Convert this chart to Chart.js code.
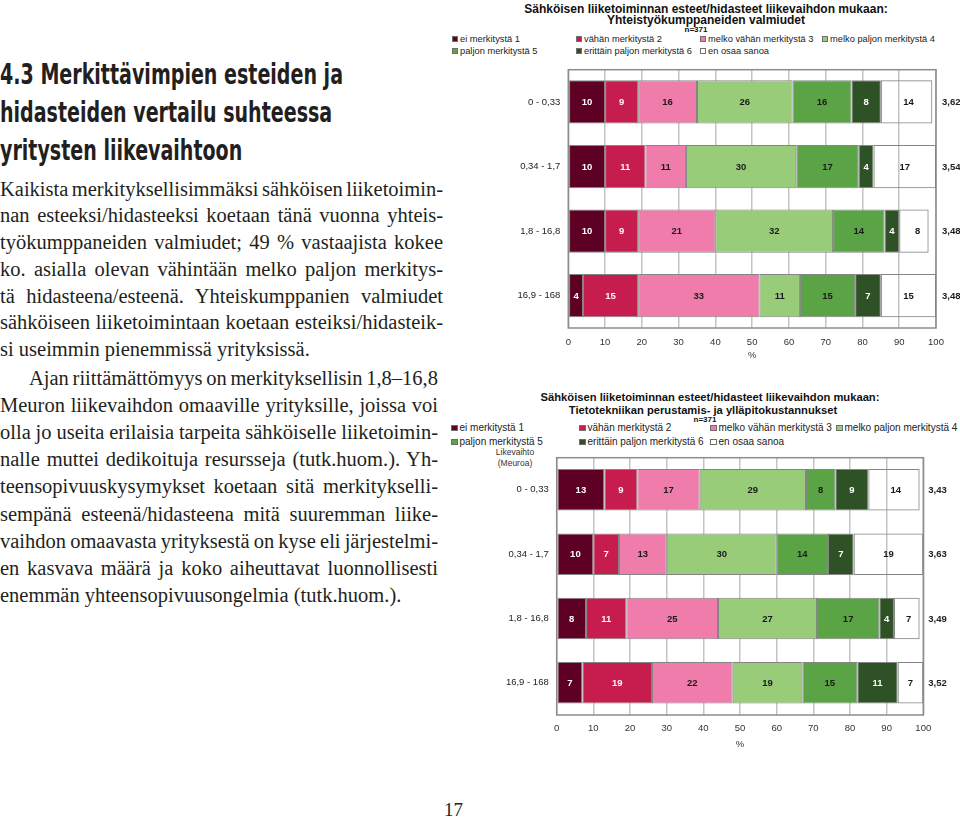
<!DOCTYPE html>
<html><head><meta charset="utf-8">
<script src="https://cdn.jsdelivr.net/npm/chart.js@4.4.1/dist/chart.umd.min.js"></script>
<style>
html,body{margin:0;padding:0;background:#fff;}
body{width:960px;height:819px;overflow:hidden;position:relative;}
.abs{position:absolute;white-space:nowrap;}
.h{font-family:"Liberation Sans Narrow","DejaVu Sans Condensed","Liberation Sans",sans-serif;font-weight:bold;font-size:28px;line-height:37.75px;color:#231f20;}
.h div{display:block;white-space:nowrap;transform-origin:0 50%;}
.h span{display:inline-block;}
.b{font-family:"Liberation Serif","DejaVu Serif",serif;font-size:20.5px;color:#231f20;}
.b div{white-space:nowrap;}
.b span{display:inline-block;}
.ct{font-family:"Liberation Sans",Arial,sans-serif;font-weight:bold;color:#111;line-height:1;transform:translateX(-50%);}
.lg{font-family:"Liberation Sans",Arial,sans-serif;color:#222;line-height:1;}
.mk{display:inline-block;border:1px solid #6f6f6f;margin-right:2px;box-sizing:border-box;}
.sm{font-family:"Liberation Sans",Arial,sans-serif;color:#333;line-height:1;text-align:center;transform:translateX(-50%);}
canvas{position:absolute;}
</style>
</head>
<body>
<div class="abs h" id="heading" style="left:0;top:56.4px;">
  <div><span>4.3 Merkittävimpien esteiden ja</span></div>
  <div><span>hidasteiden vertailu suhteessa</span></div>
  <div><span>yritysten liikevaihtoon</span></div>
</div>
<div class="abs b" id="body1" style="left:0;top:175.6px;line-height:26.75px;"></div>
<div class="abs b" id="body2" style="left:0;top:364.6px;line-height:27.2px;"></div>
<div class="abs" style="left:444px;top:800px;font-family:'Liberation Serif',serif;font-size:19px;line-height:1;color:#231f20;">17</div>

<div class="abs ct" style="left:706px;top:2.6px;font-size:12px;">Sähköisen liiketoiminnan esteet/hidasteet liikevaihdon mukaan:</div>
<div class="abs ct" style="left:706px;top:14.4px;font-size:12px;">Yhteistyökumppaneiden valmiudet</div>
<div class="abs ct" style="left:696px;top:26.4px;font-size:8px;">n=371</div>
<div id="leg1"></div>

<div class="abs ct" style="left:710px;top:391.8px;font-size:11.2px;">Sähköisen liiketoiminnan esteet/hidasteet liikevaihdon mukaan:</div>
<div class="abs ct" style="left:703px;top:404.6px;font-size:11.2px;">Tietotekniikan perustamis- ja ylläpitokustannukset</div>
<div class="abs ct" style="left:705px;top:416.2px;font-size:8px;">n=371</div>
<div id="leg2"></div>
<div class="abs sm" style="left:515px;top:447px;font-size:8.5px;line-height:11px;">Likevaihto<br>(Meuroa)</div>

<canvas id="c1" width="510" height="310" style="left:450px;top:56px;width:510px;height:310px;"></canvas>
<canvas id="c2" width="510" height="310" style="left:450px;top:444px;width:510px;height:310px;"></canvas>

<script>
// ---------- data ----------
const categories = ['0 - 0,33', '0,34 - 1,7', '1,8 - 16,8', '16,9 - 168'];
const seriesNames = ['ei merkitystä 1', 'vähän merkitystä 2', 'melko vähän merkitystä 3', 'melko paljon merkitystä 4', 'paljon merkitystä 5', 'erittäin paljon merkitystä 6', 'en osaa sanoa'];
const xTickValues = [0, 10, 20, 30, 40, 50, 60, 70, 80, 90, 100];

// Chart 1: Yhteistyökumppaneiden valmiudet
const c1_ei1 = [10, 10, 10, 4];
const c1_vahan2 = [9, 11, 9, 15];
const c1_melkoVahan3 = [16, 11, 21, 33];
const c1_melkoPaljon4 = [26, 30, 32, 11];
const c1_paljon5 = [16, 17, 14, 15];
const c1_erittain6 = [8, 4, 4, 7];
const c1_eos = [14, 17, 8, 15];
const c1_means = ['3,62', '3,54', '3,48', '3,48'];

// Chart 2: Tietotekniikan perustamis- ja ylläpitokustannukset
const c2_ei1 = [13, 10, 8, 7];
const c2_vahan2 = [9, 7, 11, 19];
const c2_melkoVahan3 = [17, 13, 25, 22];
const c2_melkoPaljon4 = [29, 30, 27, 19];
const c2_paljon5 = [8, 14, 17, 15];
const c2_erittain6 = [9, 7, 4, 11];
const c2_eos = [14, 19, 7, 7];
const c2_means = ['3,43', '3,63', '3,49', '3,52'];

// ---------- styles ----------
const seriesColors = ['#5e0024', '#c71d4e', '#f07cab', '#99cc78', '#5ba446', '#2f5126', 'rgba(255,255,255,0)'];
const legendColors = ['#5e0024', '#c71d4e', '#f07cab', '#99cc78', '#5ba446', '#2f5126', '#ffffff'];
const labelColors = ['#ffffff', '#fff4f7', '#1a1a1a', '#1a1a1a', '#1a1a1a', '#ffffff', '#1a1a1a'];
const FONT = '"Liberation Sans", Arial, sans-serif';

// ---------- left text ----------
const bodyPara1 = [
  ['Kaikista merkityksellisimmäksi sähköisen liiketoimin-', 0, 443, true],
  ['nan esteeksi/hidasteeksi koetaan tänä vuonna yhteis-', 0, 443, true],
  ['työkumppaneiden valmiudet; 49 % vastaajista kokee', 0, 443, true],
  ['ko. asialla olevan vähintään melko paljon merkitys-', 0, 443, true],
  ['tä hidasteena/esteenä. Yhteiskumppanien valmiudet', 0, 443, true],
  ['sähköiseen liiketoimintaan koetaan esteiksi/hidasteik-', 0, 443, true],
  ['si useimmin pienemmissä yrityksissä.', 0, 443, false]
];
const bodyPara2 = [
  ['Ajan riittämättömyys on merkityksellisin 1,8–16,8', 29, 438, true],
  ['Meuron liikevaihdon omaaville yrityksille, joissa voi', 0, 438, true],
  ['olla jo useita erilaisia tarpeita sähköiselle liiketoimin-', 0, 438, true],
  ['nalle muttei dedikoituja resursseja (tutk.huom.). Yh-', 0, 438, true],
  ['teensopivuuskysymykset koetaan sitä merkitykselli-', 0, 438, true],
  ['sempänä esteenä/hidasteena mitä suuremman liike-', 0, 438, true],
  ['vaihdon omaavasta yrityksestä on kyse eli järjestelmi-', 0, 438, true],
  ['en kasvava määrä ja koko aiheuttavat luonnollisesti', 0, 438, true],
  ['enemmän yhteensopivuusongelmia (tutk.huom.).', 0, 438, false]
];
function fillPara(id, lines) {
  const el = document.getElementById(id);
  lines.forEach(([txt, x0, x1, just]) => {
    const d = document.createElement('div');
    d.style.paddingLeft = x0 + 'px';
    const s = document.createElement('span');
    s.textContent = txt;
    d.appendChild(s);
    el.appendChild(d);
    if (just) {
      const w = s.getBoundingClientRect().width;
      const spaces = (txt.match(/ /g) || []).length;
      if (spaces) s.style.wordSpacing = ((x1 - x0 - w) / spaces) + 'px';
    }
  });
}
fillPara('body1', bodyPara1);
fillPara('body2', bodyPara2);
// heading condensed scale
(function () {
  const divs = document.querySelectorAll('#heading div');
  const w = divs[0].querySelector('span').getBoundingClientRect().width;
  const k = 343 / w;
  divs.forEach(d => d.style.transform = 'scaleX(' + k + ')');
})();

// ---------- legends ----------
function buildLegend(id, cols, rowTops, fs, mk) {
  const host = document.getElementById(id);
  seriesNames.forEach((n, i) => {
    const d = document.createElement('div');
    d.className = 'abs lg';
    d.style.left = cols[i % 4] + 'px';
    d.style.top = rowTops[Math.floor(i / 4)] + 'px';
    d.style.fontSize = fs + 'px';
    const m = document.createElement('span');
    m.className = 'mk';
    m.style.width = mk + 'px'; m.style.height = mk + 'px';
    m.style.background = legendColors[i];
    const t = document.createElement('span');
    t.textContent = n;
    d.appendChild(m); d.appendChild(t);
    host.appendChild(d);
  });
}
buildLegend('leg1', [452, 576, 700, 822], [34.6, 46.6], 9.3, 6);
buildLegend('leg2', [451, 579, 710, 836], [423, 437], 10, 6.5);

// ---------- chart plugins ----------
const framePlugin = {
  id: 'frame',
  beforeDatasetsDraw(chart) {
    const { ctx, chartArea: a } = chart;
    ctx.save();
    ctx.strokeStyle = '#8c8c8c';
    ctx.lineWidth = 1.5;
    ctx.strokeRect(a.left, a.top, a.right - a.left, a.bottom - a.top);
    ctx.restore();
  }
};
const segLabelPlugin = {
  id: 'segLabels',
  afterDatasetsDraw(chart, args, opts) {
    const ctx = chart.ctx;
    const n = chart.data.datasets.length;
    ctx.save();
    ctx.font = 'bold ' + opts.size + 'px ' + FONT;
    ctx.textAlign = 'center';
    ctx.textBaseline = 'middle';
    chart.data.datasets.forEach((ds, di) => {
      const meta = chart.getDatasetMeta(di);
      meta.data.forEach((el, i) => {
        let x1 = el.base, x2 = el.x;
        if (di === n - 1) x2 = chart.scales.x.getPixelForValue(100);
        ctx.fillStyle = labelColors[di];
        ctx.fillText(String(ds.data[i]), (x1 + x2) / 2, el.y + 0.5);
      });
    });
    ctx.textAlign = 'left';
    ctx.fillStyle = '#222';
    opts.means.forEach((m, i) => {
      ctx.fillText(m, chart.chartArea.right + opts.meanGap, chart.scales.y.getPixelForValue(i) + 0.5);
    });
    ctx.restore();
  }
};

function makeChart(id, series, means, cfg) {
  const datasets = series.map((d, i) => ({
    label: seriesNames[i],
    data: d,
    backgroundColor: seriesColors[i],
    borderColor: '#858585',
    borderWidth: 1,
    borderSkipped: false,
    barPercentage: cfg.barPct,
    categoryPercentage: 1
  }));
  return new Chart(document.getElementById(id), {
    type: 'bar',
    data: { labels: categories, datasets },
    plugins: [framePlugin, segLabelPlugin],
    options: {
      indexAxis: 'y',
      responsive: false,
      animation: false,
      layout: { padding: { top: cfg.padTop, right: cfg.padRight, left: 0, bottom: 0 } },
      plugins: {
        legend: { display: false },
        title: { display: false },
        tooltip: { enabled: false },
        segLabels: { means, size: cfg.labelSize, meanGap: cfg.meanGap }
      },
      scales: {
        x: {
          stacked: true, min: 0, max: 100,
          afterBuildTicks: s => { s.ticks = xTickValues.map(v => ({ value: v })); },
          afterFit: s => { s.height = cfg.xHeight; },
          ticks: { color: '#333', font: { family: FONT, size: cfg.tickSize }, padding: cfg.xTickPad, maxRotation: 0 },
          grid: { color: '#c4c4c4', lineWidth: 1.5, drawTicks: false },
          border: { display: false },
          title: { display: true, text: '%', color: '#333', font: { family: FONT, size: cfg.tickSize }, padding: { top: 0, bottom: cfg.titlePad } }
        },
        y: {
          stacked: true,
          afterFit: s => { s.width = cfg.yWidth; },
          ticks: { color: '#222', font: { family: FONT, size: cfg.tickSize }, padding: 8 },
          grid: { display: false, drawTicks: false },
          border: { display: false }
        }
      }
    }
  });
}

makeChart('c1', [c1_ei1, c1_vahan2, c1_melkoVahan3, c1_melkoPaljon4, c1_paljon5, c1_erittain6, c1_eos], c1_means,
  { barPct: 0.67, padTop: 3, padRight: 24, yWidth: 118.3, xHeight: 38, xTickPad: 9, titlePad: 5, tickSize: 9.5, labelSize: 9.5, meanGap: 6 });
makeChart('c2', [c2_ei1, c2_vahan2, c2_melkoVahan3, c2_melkoPaljon4, c2_paljon5, c2_erittain6, c2_eos], c2_means,
  { barPct: 0.645, padTop: 4, padRight: 36.7, yWidth: 106.7, xHeight: 39, xTickPad: 8, titlePad: 4, tickSize: 9.5, labelSize: 9.5, meanGap: 5 });
</script>
</body></html>
